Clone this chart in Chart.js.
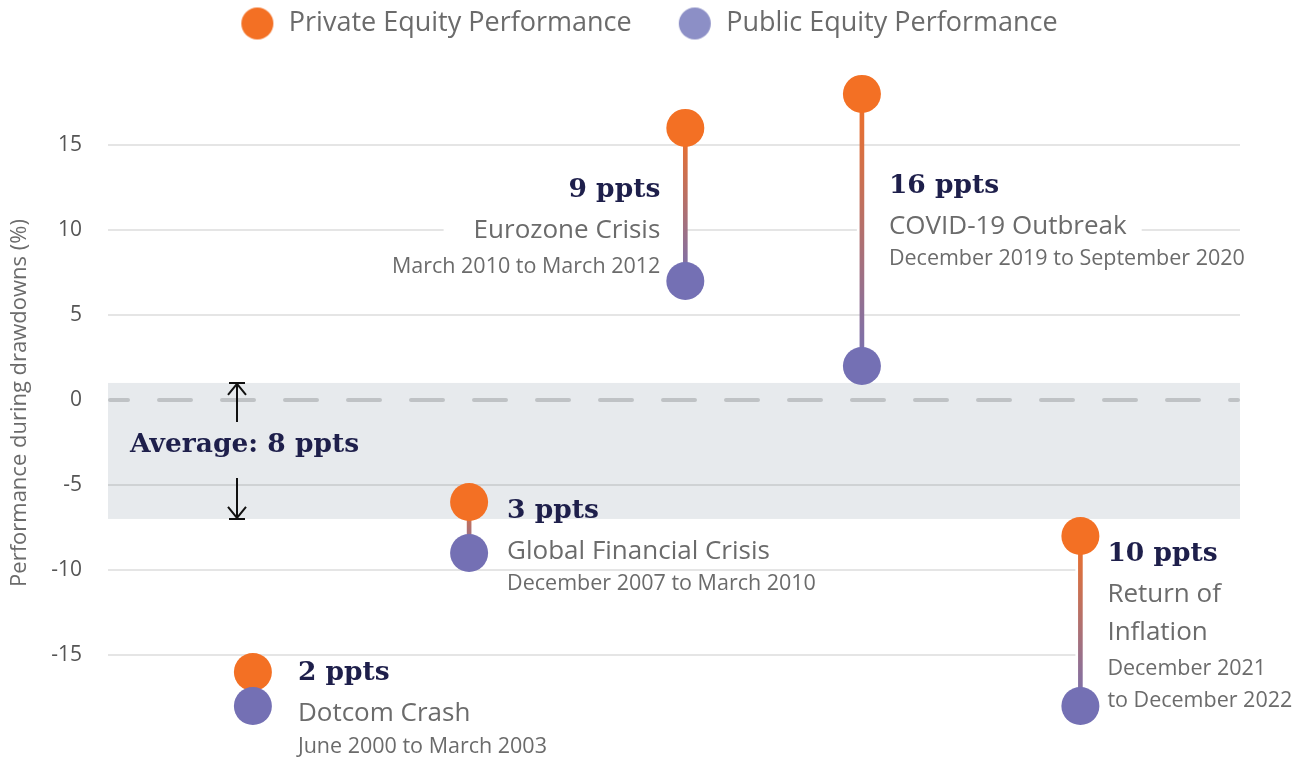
<!DOCTYPE html>
<html>
<head>
<meta charset="utf-8">
<script src="https://cdn.jsdelivr.net/npm/chart.js@4.4.0/dist/chart.umd.min.js"></script>
<style>
  html, body { margin: 0; padding: 0; background: #fff; }
  canvas { display: block; }
</style>
</head>
<body>
<canvas id="drawdownChart" width="1297" height="759"></canvas>
<script>
// data
const eventNames = [['Dotcom Crash'], ['Global Financial Crisis'], ['Eurozone Crisis'], ['COVID-19 Outbreak'], ['Return of', 'Inflation']];
const eventPeriods = [['June 2000 to March 2003'], ['December 2007 to March 2010'], ['March 2010 to March 2012'], ['December 2019 to September 2020'], ['December 2021', 'to December 2022']];
const eventSlots = [12.8, 31.9, 51.0, 66.6, 85.9];   // spot on a 0-100 x axis
const privateEquity = [-16, -6, 16, 18, -8];
const publicEquity = [-18, -9, 7, 2, -18];
const yTicks = [-15, -10, -5, 0, 5, 10, 15];

const ORANGE = '#f37024';
const PURPLE = '#7470b4';
const PURPLE_LEGEND = '#8c8fc6';
const NAVY = '#1e1f4b';
const GREY = '#6b6b6b';
const SANS = '"Open Sans", sans-serif';
const SERIF = '"DejaVu Serif", serif';

const gaps = privateEquity.map((v, i) => v - publicEquity[i]);
const avgGap = gaps.reduce((a, b) => a + b, 0) / gaps.length;
const bandTop = 1;
const bandBottom = bandTop - avgGap;

// where each label block sits, relative to the private equity dot
const labelLayout = [
  { align: 'left', dx: 45, dy: 1, dateGap: 33, cover: null },
  { align: 'left', dx: 38, dy: 9, dateGap: 32, cover: 'name', pad: 15 },
  { align: 'right', dx: -25, dy: 62, dateGap: 36, cover: 'name', pad: 30 },
  { align: 'left', dx: 27, dy: 92, dateGap: 32, cover: 'name', pad: 15 },
  { align: 'left', dx: 27, dy: 18, dateGap: 36, cover: 'all', pad: 40 }
];

function legendDot(color) {
  const c = document.createElement('canvas');
  c.width = 34; c.height = 34;
  const g = c.getContext('2d');
  g.fillStyle = color;
  g.beginPath();
  g.arc(17, 17, 16, 0, Math.PI * 2);
  g.fill();
  return c;
}

function blockLines(i) {
  const L = labelLayout[i];
  const lines = [];
  let y = L.dy;
  lines.push({ text: gaps[i] + ' ppts', font: 'bold 26.5px ' + SERIF, color: NAVY, dy: y, kind: 'gap' });
  y += 41;
  eventNames[i].forEach((t, k) => {
    if (k > 0) y += 38;
    lines.push({ text: t, font: '26px ' + SANS, color: GREY, dy: y, kind: 'name' });
  });
  y += L.dateGap;
  eventPeriods[i].forEach((t, k) => {
    if (k > 0) y += 32;
    lines.push({ text: t, font: '21.5px ' + SANS, color: GREY, dy: y, kind: 'date' });
  });
  return lines;
}

const bandPlugin = {
  id: 'band',
  beforeDraw(chart) {
    const { ctx, chartArea, scales } = chart;
    const y1 = scales.y.getPixelForValue(bandTop);
    const y2 = scales.y.getPixelForValue(bandBottom);
    ctx.save();
    ctx.fillStyle = '#e7eaed';
    ctx.fillRect(chartArea.left, y1, chartArea.right - chartArea.left, y2 - y1);
    ctx.restore();
  },
  beforeDatasetsDraw(chart) {
    const { ctx, chartArea, scales } = chart;
    // dashed zero line
    const y0 = scales.y.getPixelForValue(0);
    ctx.save();
    ctx.strokeStyle = '#bfc2c5';
    ctx.lineWidth = 4;
    ctx.lineCap = 'round';
    ctx.setLineDash([32, 31]);
    ctx.lineDashOffset = 14;
    ctx.beginPath();
    ctx.moveTo(chartArea.left + 2, y0);
    ctx.lineTo(chartArea.right - 2, y0);
    ctx.stroke();
    ctx.setLineDash([]);

    // white knock-outs behind label blocks
    ctx.fillStyle = '#fff';
    eventSlots.forEach((s, i) => {
      const L = labelLayout[i];
      if (!L.cover) return;
      const px = scales.x.getPixelForValue(s);
      const py = scales.y.getPixelForValue(privateEquity[i]);
      const lines = blockLines(i).filter(l => l.kind === 'name' || (L.cover === 'all' && l.kind === 'date'));
      let w = 0;
      lines.forEach(l => { ctx.font = l.font; w = Math.max(w, ctx.measureText(l.text).width); });
      const top = py + lines[0].dy - 27;
      const bottom = py + lines[lines.length - 1].dy + 16;
      if (L.align === 'left') {
        ctx.fillRect(px - 5, top, L.dx + w + L.pad + 5, bottom - top);
      } else {
        ctx.fillRect(px + L.dx - w - L.pad, top, -L.dx + w + L.pad - 2, bottom - top);
      }
    });
    ctx.restore();
  },
  afterDatasetsDraw(chart) {
    const { ctx, chartArea, scales } = chart;
    ctx.save();
    ctx.textBaseline = 'middle';
    eventSlots.forEach((s, i) => {
      const L = labelLayout[i];
      const px = scales.x.getPixelForValue(s);
      const py = scales.y.getPixelForValue(privateEquity[i]);
      ctx.textAlign = L.align;
      blockLines(i).forEach(l => {
        ctx.font = l.font;
        ctx.fillStyle = l.color;
        ctx.fillText(l.text, px + L.dx, py + l.dy);
      });
    });

    // average marker
    const yT = scales.y.getPixelForValue(bandTop);
    const yB = scales.y.getPixelForValue(bandBottom);
    const ax = chartArea.left + 129;
    const mid = (yT + yB) / 2;
    ctx.strokeStyle = '#111';
    ctx.lineWidth = 2;
    ctx.beginPath();
    ctx.moveTo(ax - 8, yT); ctx.lineTo(ax + 8, yT);
    ctx.moveTo(ax, yT); ctx.lineTo(ax, mid - 29);
    ctx.moveTo(ax - 9, yT + 12); ctx.lineTo(ax, yT + 1); ctx.lineTo(ax + 9, yT + 12);
    ctx.moveTo(ax - 8, yB); ctx.lineTo(ax + 8, yB);
    ctx.moveTo(ax, yB); ctx.lineTo(ax, mid + 27);
    ctx.moveTo(ax - 9, yB - 12); ctx.lineTo(ax, yB - 1); ctx.lineTo(ax + 9, yB - 12);
    ctx.stroke();
    ctx.textAlign = 'left';
    ctx.font = 'bold 26.5px ' + SERIF;
    ctx.fillStyle = NAVY;
    ctx.fillText('Average: ' + avgGap + ' ppts', chartArea.left + 22, mid - 6);
    ctx.restore();
  }
};

const ctx = document.getElementById('drawdownChart').getContext('2d');
new Chart(ctx, {
  type: 'scatter',
  data: {
    datasets: [
      {
        label: 'Private Equity Performance',
        data: eventSlots.map((x, i) => ({ x: x, y: privateEquity[i] })),
        backgroundColor: ORANGE,
        borderWidth: 0,
        pointRadius: 19,
        pointHoverRadius: 19,
        order: 2
      },
      {
        label: 'Public Equity Performance',
        data: eventSlots.map((x, i) => ({ x: x, y: publicEquity[i] })),
        backgroundColor: PURPLE,
        borderWidth: 0,
        pointRadius: 19,
        pointHoverRadius: 19,
        order: 1
      },
      {
        type: 'bar',
        label: 'gap',
        data: eventSlots.map((x, i) => ({ x: x, y: [publicEquity[i], privateEquity[i]] })),
        barThickness: 4,
        borderWidth: 0,
        backgroundColor: (c) => {
          const chart = c.chart;
          if (!chart.chartArea || c.type !== 'data') return '#b07070';
          const y = chart.scales.y;
          const i = c.dataIndex;
          const g = chart.ctx.createLinearGradient(0, y.getPixelForValue(privateEquity[i]), 0, y.getPixelForValue(publicEquity[i]));
          g.addColorStop(0, ORANGE);
          g.addColorStop(1, PURPLE);
          return g;
        },
        order: 3
      }
    ]
  },
  options: {
    responsive: false,
    animation: false,
    layout: { padding: 0, autoPadding: false },
    plugins: {
      tooltip: { enabled: false },
      legend: {
        position: 'top',
        labels: {
          usePointStyle: true,
          pointStyleWidth: 36,
          padding: 10,
          color: GREY,
          font: { family: SANS, size: 27 },
          filter: (item) => item.datasetIndex < 2,
          sort: (a, b) => a.datasetIndex - b.datasetIndex,
          generateLabels: (chart) => {
            const items = Chart.defaults.plugins.legend.labels.generateLabels(chart);
            items.forEach(it => {
              if (it.datasetIndex === 0) { it.pointStyle = legendDot(ORANGE); it.text = it.text + '     '; }
              if (it.datasetIndex === 1) { it.pointStyle = legendDot(PURPLE_LEGEND); }
            });
            return items;
          }
        }
      }
    },
    scales: {
      x: { type: 'linear', min: 0, max: 100, offset: false, display: false },
      y: {
        min: -21.12,
        max: 20.76,
        afterBuildTicks: (axis) => { axis.ticks = yTicks.map(v => ({ value: v })); },
        afterFit: (axis) => { axis.width = 108; axis.paddingTop = 0; axis.paddingBottom = 0; },
        border: { display: false },
        grid: {
          drawTicks: false,
          lineWidth: 2,
          color: (c) => (c.tick && c.tick.value === 0 ? 'rgba(0,0,0,0)' : 'rgba(0,0,0,0.1)')
        },
        ticks: { padding: 26, color: '#555', font: { family: SANS, size: 21 } },
        title: {
          display: true,
          text: 'Performance during drawdowns (%)',
          color: GREY,
          font: { family: SANS, size: 22 },
          padding: { top: 7, bottom: 0 }
        }
      },
      yRight: {
        type: 'linear',
        position: 'right',
        afterFit: (axis) => { axis.width = 57; axis.paddingTop = 0; axis.paddingBottom = 0; },
        border: { display: false },
        grid: { display: false },
        ticks: { display: false }
      }
    }
  },
  plugins: [bandPlugin]
});
</script>
</body>
</html>
